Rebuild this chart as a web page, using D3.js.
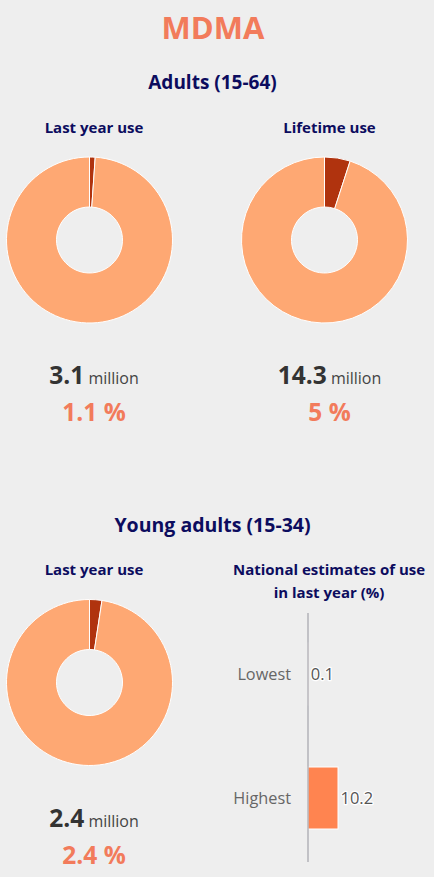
<!DOCTYPE html>
<html><head><meta charset="utf-8">
<script src="https://cdn.jsdelivr.net/npm/d3@7"></script>
<style>
html,body{margin:0;padding:0;background:#eeeeee;}
svg{display:block;font-family:"Open Sans",sans-serif;}
</style></head>
<body>
<svg id="c" width="434" height="877"></svg>
<script>
const title = "MDMA";
const groupTitles = ["Adults (15-64)", "Young adults (15-34)"];
const donutTitles = ["Last year use", "Lifetime use", "Last year use"];
const donutPercents = [1.1, 5, 2.4];
const donutMillions = ["3.1", "14.3", "2.4"];
const barTitle = ["National estimates of use", "in last year (%)"];
const barCategories = ["Lowest", "Highest"];
const barValues = [0.1, 10.2];

const navy = "#0c0c5e", salmon = "#f27b5b", dark = "#b0330e", light = "#fea873", barColor = "#ff8450";

const svg = d3.select("#c");

svg.append("text").attr("x", 213).attr("y", 39).attr("text-anchor", "middle")
  .attr("font-size", 31).attr("font-weight", 700).attr("fill", salmon).text(title);

const gt = [{x:212.5,y:89,s:19},{x:212.5,y:532,s:19.5}];
groupTitles.forEach((t,i)=>{
  svg.append("text").attr("x", gt[i].x).attr("y", gt[i].y).attr("text-anchor","middle")
    .attr("font-size", gt[i].s).attr("font-weight",700).attr("fill", navy).text(t);
});

const donutPos = [
  {cx:89.5, cy:240, tx:94, ty:133, ny:384, py:421},
  {cx:324.5, cy:240, tx:329.5, ty:133, ny:384, py:421},
  {cx:89.5, cy:682.5, tx:94, ty:575, ny:827, py:864}
];
const pie = d3.pie().sort(null).value(d=>d);
const arc = d3.arc().innerRadius(33).outerRadius(83);
const colorScale = d3.scaleOrdinal().domain([0,1]).range([dark, light]);

donutPercents.forEach((p,i)=>{
  const pos = donutPos[i];
  svg.append("text").attr("x", pos.tx).attr("y", pos.ty).attr("text-anchor","middle")
    .attr("font-size", 15).attr("font-weight",700).attr("fill", navy).text(donutTitles[i]);
  const g = svg.append("g").attr("transform", `translate(${pos.cx},${pos.cy})`);
  g.selectAll("path").data(pie([p, 100-p])).join("path")
    .attr("d", arc).attr("fill", (d,j)=>colorScale(j))
    .attr("stroke", "#ffffff").attr("stroke-width", 1);
  const t = svg.append("text").attr("x", pos.tx).attr("y", pos.ny).attr("text-anchor","middle");
  t.append("tspan").attr("font-size", 24.5).attr("font-weight",700).attr("fill","#333333").text(donutMillions[i]);
  t.append("tspan").attr("font-size", 16).attr("fill","#444444").text(" million");
  svg.append("text").attr("x", pos.tx).attr("y", pos.py).attr("text-anchor","middle")
    .attr("font-size", 24.5).attr("font-weight",700).attr("fill", salmon).text(p + " %");
});

// bar chart
barTitle.forEach((t,i)=>{
  svg.append("text").attr("x", 329).attr("y", 575 + i*23).attr("text-anchor","middle")
    .attr("font-size", 15).attr("font-weight",700).attr("fill", navy).text(t);
});
const x = d3.scaleLinear().domain([0, 10.2]).range([308, 338]);
const y = d3.scaleBand().domain(barCategories).range([612, 860]).paddingInner(0.5).paddingOuter(0.25);

svg.append("g").selectAll("rect").data(barValues).join("rect")
  .attr("x", x(0)).attr("y", (d,i)=>y(barCategories[i]))
  .attr("width", d=>x(d)-x(0)).attr("height", y.bandwidth())
  .attr("fill", barColor).attr("stroke","#ffffff").attr("stroke-width",1);

svg.append("line").attr("x1", 308).attr("x2", 308).attr("y1", 613).attr("y2", 862)
  .attr("stroke", "#a3a3ab").attr("stroke-width", 1.2);

svg.append("g").selectAll("text").data(barCategories).join("text")
  .attr("x", 291).attr("y", d=>y(d)+y.bandwidth()/2).attr("dy","0.35em")
  .attr("text-anchor","end").attr("font-size",16.3).attr("fill","#666666").text(d=>d);

svg.append("g").selectAll("text").data(barValues).join("text")
  .attr("x", d=>x(d)+2.5).attr("y", (d,i)=>y(barCategories[i])+y.bandwidth()/2).attr("dy","0.35em")
  .attr("font-size",16.5).attr("fill","#555555")
  .attr("stroke","#ffffff").attr("stroke-width",2.5).attr("paint-order","stroke")
  .attr("stroke-linejoin","round").text(d=>d);
</script>
</body></html>
